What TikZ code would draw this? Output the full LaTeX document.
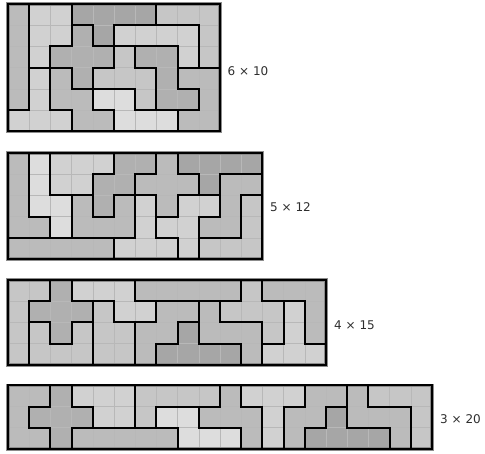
\documentclass[tikz,border=0pt]{standalone}
\usepackage{fontspec}
\setmainfont{DejaVu Sans}
\pgfdeclarelayer{fills}
\pgfdeclarelayer{cells}
\pgfsetlayers{fills,cells,main}
% grey shades for the pentominoes, lightest to darkest
\definecolor{shA}{HTML}{DDDDDD}
\definecolor{shB}{HTML}{D1D1D1}
\definecolor{shC}{HTML}{C6C6C6}
\definecolor{shD}{HTML}{BBBBBB}
\definecolor{shE}{HTML}{B0B0B0}
\definecolor{shF}{HTML}{A6A6A6}
\tikzset{
  outline/.style={draw=black, line width=2pt, line join=miter},
  cellline/.style={draw=black!28, line width=0.5pt},
  frame/.style={draw=black!45, line width=3.4pt},
  dims/.style={anchor=west, inner sep=0pt, text=black!82, font=\fontsize{12}{14}\selectfont},
  board/.style={x=21.2pt, y=-21.2pt},
}
% one pentomino: filled on the bottom layer, outlined on top
\newcommand\piece[2]{%
  \begin{pgfonlayer}{fills}\fill[#1] #2 -- cycle;\end{pgfonlayer}%
  \draw[outline] #2 -- cycle;}
% unit-cell grid and frame of a board: columns, rows
\newcommand\cells[2]{%
  \pgfmathtruncatemacro\lastc{#1-1}\pgfmathtruncatemacro\lastr{#2-1}%
  \begin{pgfonlayer}{cells}%
  \foreach \i in {1,...,\lastc} \draw[cellline] (\i,0) -- (\i,#2);%
  \foreach \j in {1,...,\lastr} \draw[cellline] (0,\j) -- (#1,\j);%
  \end{pgfonlayer}%
  \draw[frame] (0,0) rectangle (#1,#2);}
\begin{document}
\begin{tikzpicture}[x=1pt, y=-1pt]
\useasboundingbox (0,0) rectangle (485,453);

% 6 x 10
\begin{scope}[shift={(8pt,-4pt)}, board]
\cells{10}{6}
\piece{shD}{(0,0)--(1,0)--(1,5)--(0,5)}
\piece{shB}{(1,0)--(3,0)--(3,2)--(2,2)--(2,3)--(1,3)}
\piece{shB}{(1,3)--(2,3)--(2,5)--(3,5)--(3,6)--(0,6)--(0,5)--(1,5)}
\piece{shF}{(3,0)--(7,0)--(7,1)--(5,1)--(5,2)--(4,2)--(4,1)--(3,1)}
\piece{shE}{(3,1)--(4,1)--(4,2)--(5,2)--(5,3)--(4,3)--(4,4)--(3,4)--(3,3)--(2,3)--(2,2)--(3,2)}
\piece{shD}{(2,3)--(3,3)--(3,4)--(4,4)--(4,5)--(5,5)--(5,6)--(3,6)--(3,5)--(2,5)}
\piece{shC}{(7,0)--(10,0)--(10,3)--(9,3)--(9,1)--(7,1)}
\piece{shB}{(5,1)--(9,1)--(9,3)--(8,3)--(8,2)--(5,2)}
\piece{shE}{(6,2)--(8,2)--(8,4)--(9,4)--(9,5)--(7,5)--(7,3)--(6,3)}
\piece{shC}{(5,2)--(6,2)--(6,3)--(7,3)--(7,5)--(6,5)--(6,4)--(4,4)--(4,3)--(5,3)}
\piece{shA}{(4,4)--(6,4)--(6,5)--(8,5)--(8,6)--(5,6)--(5,5)--(4,5)}
\piece{shD}{(8,3)--(10,3)--(10,6)--(8,6)--(8,5)--(9,5)--(9,4)--(8,4)}
\end{scope}

% 5 x 12
\begin{scope}[shift={(8pt,-153pt)}, board]
\cells{12}{5}
\piece{shD}{(0,0)--(1,0)--(1,3)--(2,3)--(2,4)--(0,4)}
\piece{shA}{(1,0)--(2,0)--(2,2)--(3,2)--(3,4)--(2,4)--(2,3)--(1,3)}
\piece{shB}{(2,0)--(5,0)--(5,1)--(4,1)--(4,2)--(2,2)}
\piece{shD}{(0,4)--(5,4)--(5,5)--(0,5)}
\piece{shE}{(5,0)--(7,0)--(7,1)--(6,1)--(6,2)--(5,2)--(5,3)--(4,3)--(4,1)--(5,1)}
\piece{shD}{(3,2)--(4,2)--(4,3)--(5,3)--(5,2)--(6,2)--(6,4)--(3,4)}
\piece{shD}{(7,0)--(8,0)--(8,1)--(9,1)--(9,2)--(8,2)--(8,3)--(7,3)--(7,2)--(6,2)--(6,1)--(7,1)}
\piece{shF}{(8,0)--(12,0)--(12,1)--(10,1)--(10,2)--(9,2)--(9,1)--(8,1)}
\piece{shD}{(10,1)--(12,1)--(12,2)--(11,2)--(11,4)--(9,4)--(9,3)--(10,3)}
\piece{shC}{(11,2)--(12,2)--(12,5)--(9,5)--(9,4)--(11,4)}
\piece{shB}{(8,2)--(10,2)--(10,3)--(9,3)--(9,5)--(8,5)--(8,4)--(7,4)--(7,3)--(8,3)}
\piece{shB}{(6,2)--(7,2)--(7,4)--(8,4)--(8,5)--(5,5)--(5,4)--(6,4)}
\end{scope}

% 4 x 15
\begin{scope}[shift={(8pt,-280pt)}, board]
\cells{15}{4}
\piece{shC}{(0,0)--(2,0)--(2,1)--(1,1)--(1,4)--(0,4)}
\piece{shE}{(2,0)--(3,0)--(3,1)--(4,1)--(4,2)--(3,2)--(3,3)--(2,3)--(2,2)--(1,2)--(1,1)--(2,1)}
\piece{shC}{(1,2)--(2,2)--(2,3)--(3,3)--(3,2)--(4,2)--(4,4)--(1,4)}
\piece{shB}{(3,0)--(6,0)--(6,1)--(7,1)--(7,2)--(5,2)--(5,1)--(3,1)}
\piece{shC}{(4,1)--(5,1)--(5,2)--(6,2)--(6,4)--(4,4)}
\piece{shD}{(6,0)--(11,0)--(11,1)--(6,1)}
\piece{shD}{(7,1)--(9,1)--(9,2)--(8,2)--(8,3)--(7,3)--(7,4)--(6,4)--(6,2)--(7,2)}
\piece{shF}{(8,2)--(9,2)--(9,3)--(11,3)--(11,4)--(7,4)--(7,3)--(8,3)}
\piece{shD}{(9,1)--(10,1)--(10,2)--(12,2)--(12,4)--(11,4)--(11,3)--(9,3)}
\piece{shC}{(11,0)--(12,0)--(12,1)--(13,1)--(13,3)--(12,3)--(12,2)--(10,2)--(10,1)--(11,1)}
\piece{shD}{(12,0)--(15,0)--(15,3)--(14,3)--(14,1)--(12,1)}
\piece{shB}{(13,1)--(14,1)--(14,3)--(15,3)--(15,4)--(12,4)--(12,3)--(13,3)}
\end{scope}

% 3 x 20
\begin{scope}[shift={(8pt,-385.3pt)}, board]
\cells{20}{3}
\piece{shD}{(0,0)--(2,0)--(2,1)--(1,1)--(1,2)--(2,2)--(2,3)--(0,3)}
\piece{shE}{(2,0)--(3,0)--(3,1)--(4,1)--(4,2)--(3,2)--(3,3)--(2,3)--(2,2)--(1,2)--(1,1)--(2,1)}
\piece{shB}{(3,0)--(6,0)--(6,2)--(4,2)--(4,1)--(3,1)}
\piece{shD}{(3,2)--(8,2)--(8,3)--(3,3)}
\piece{shC}{(6,0)--(10,0)--(10,1)--(7,1)--(7,2)--(6,2)}
\piece{shA}{(7,1)--(9,1)--(9,2)--(11,2)--(11,3)--(8,3)--(8,2)--(7,2)}
\piece{shD}{(10,0)--(11,0)--(11,1)--(12,1)--(12,3)--(11,3)--(11,2)--(9,2)--(9,1)--(10,1)}
\piece{shB}{(11,0)--(14,0)--(14,1)--(13,1)--(13,3)--(12,3)--(12,1)--(11,1)}
\piece{shD}{(14,0)--(16,0)--(16,1)--(15,1)--(15,2)--(14,2)--(14,3)--(13,3)--(13,1)--(14,1)}
\piece{shF}{(15,1)--(16,1)--(16,2)--(18,2)--(18,3)--(14,3)--(14,2)--(15,2)}
\piece{shD}{(16,0)--(17,0)--(17,1)--(19,1)--(19,3)--(18,3)--(18,2)--(16,2)}
\piece{shC}{(17,0)--(20,0)--(20,3)--(19,3)--(19,1)--(17,1)}
\end{scope}

% board sizes
\node[dims] (size6x10) at (227.5,71) {6 × 10};
\node[dims] (size5x12) at (270,207) {5 × 12};
\node[dims] (size4x15) at (334,325) {4 × 15};
\node[dims] (size3x20) at (440,419) {3 × 20};
\end{tikzpicture}
\end{document}
